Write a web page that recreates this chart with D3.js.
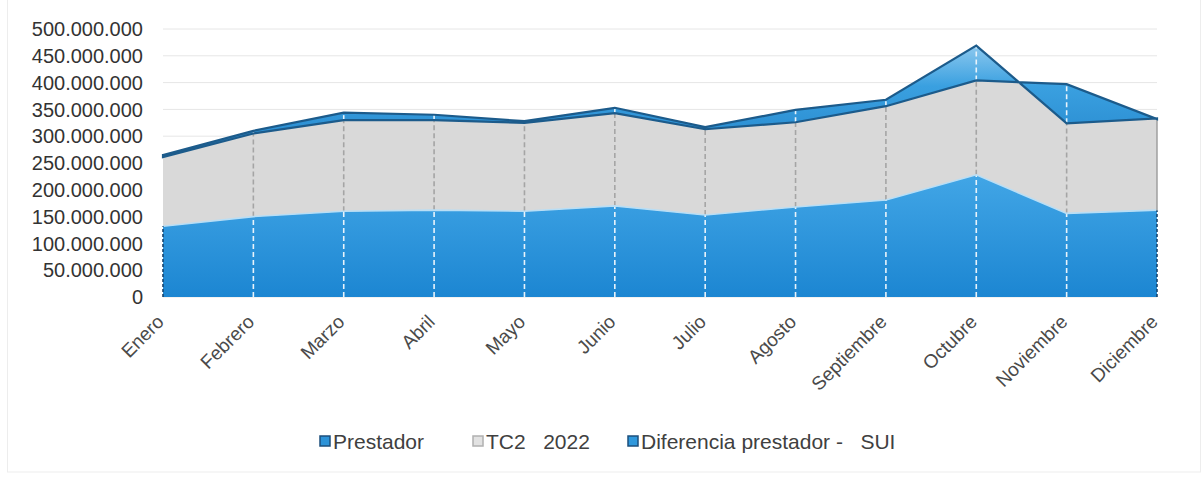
<!DOCTYPE html>
<html><head><meta charset="utf-8">
<script src="https://cdn.jsdelivr.net/npm/d3@7"></script>
<style>
body{margin:0;background:#fff}
svg{display:block}
text{font-family:"Liberation Sans",Arial,Helvetica,sans-serif;fill:#3a3a3a}
</style>
</head><body>
<svg id="chart" width="1202" height="477"></svg>
<script>
// ---- data (values in pesos) ----
const months = ["Enero","Febrero","Marzo","Abril","Mayo","Junio","Julio","Agosto","Septiembre","Octubre","Noviembre","Diciembre"];
const prestador  = [132e6,150e6,160e6,162e6,160e6,170e6,153e6,168e6,181e6,228e6,156e6,162e6];
const tc2        = [129e6,155e6,170e6,168e6,165e6,173e6,160e6,158e6,175e6,176e6,241e6,170e6];
const diferencia = [4e6,5e6,14e6,10e6,3e6,10e6,4e6,23e6,12e6,65e6,-73e6,1e6];
const yTicks = [0,50e6,100e6,150e6,200e6,250e6,300e6,350e6,400e6,450e6,500e6];
const seriesNames = ["Prestador","TC2   2022","Diferencia prestador -   SUI"];

const svg = d3.select("#chart");
const x = d3.scalePoint().domain(months).range([163,1157]);
const y = d3.scaleLinear().domain([0,500e6]).range([297,29]);

const table = months.map((m,i)=>({month:m,p:prestador[i],t:tc2[i],d:diferencia[i]}));
const stacked = d3.stack().keys(["p","t","d"])(table);

const locale = d3.formatLocale({decimal:",",thousands:".",grouping:[3],currency:["",""]});
const fmt = locale.format(",");

// defs
const defs = svg.append("defs");
const g1 = defs.append("linearGradient").attr("id","gPrest").attr("gradientUnits","userSpaceOnUse")
  .attr("x1",0).attr("x2",0).attr("y1",y(230e6)).attr("y2",y(0));
g1.append("stop").attr("offset",0).attr("stop-color","#42a6e6");
g1.append("stop").attr("offset",1).attr("stop-color","#1c86d2");
const g3 = defs.append("linearGradient").attr("id","gDif").attr("gradientUnits","userSpaceOnUse")
  .attr("x1",0).attr("x2",0).attr("y1",y(470e6)).attr("y2",y(300e6));
g3.append("stop").attr("offset",0).attr("stop-color","#8dc9ef");
g3.append("stop").attr("offset",0.45).attr("stop-color","#3aa0e0");
g3.append("stop").attr("offset",1).attr("stop-color","#2b8ed2");

// frame
svg.append("rect").attr("x",7.5).attr("y",-2).attr("width",1193).attr("height",474)
  .attr("fill","none").attr("stroke","#ededed");

// gridlines
svg.append("g").selectAll("line").data(yTicks).join("line")
  .attr("x1",x.range()[0]).attr("x2",x.range()[1])
  .attr("y1",d=>y(d)).attr("y2",d=>y(d))
  .attr("stroke","#e6e6e6").attr("stroke-width",1);

// y labels
svg.append("g").selectAll("text").data(yTicks).join("text")
  .attr("x",143).attr("y",d=>y(d)).attr("dy","0.36em")
  .attr("text-anchor","end").style("font-size","20px").style("fill","#333")
  .text(d=>fmt(d));

const area = d3.area().x(d=>x(d.data.month)).y0(d=>y(d[0])).y1(d=>y(d[1]));
const fills = ["url(#gPrest)","#d9d9d9","url(#gDif)"];
svg.append("g").selectAll("path").data(stacked).join("path")
  .attr("d",area).attr("fill",(d,i)=>fills[i]);

// drop lines
const drops = svg.append("g").attr("stroke-width",1.6).attr("stroke-dasharray","5,3");
table.forEach((row,i)=>{
  if(i===0||i===months.length-1) return;
  const xx = x(row.month);
  const c1 = stacked[0][i][1], c2 = stacked[1][i][1], c3 = stacked[2][i][1];
  const lo = Math.min(c2,c3), hi = Math.max(c2,c3);
  drops.append("line").attr("x1",xx).attr("x2",xx).attr("y1",y(0)).attr("y2",y(c1)).attr("stroke","#e8f3fb");
  drops.append("line").attr("x1",xx).attr("x2",xx).attr("y1",y(c1)).attr("y2",y(lo)).attr("stroke","#a5a5a5");
  if(hi>lo) drops.append("line").attr("x1",xx).attr("x2",xx).attr("y1",y(lo)).attr("y2",y(hi)).attr("stroke","#e8f3fb");
});

// prestador top edge (light) and dark dotted sides
const lineP = d3.line().x(d=>x(d.data.month)).y(d=>y(d[1]));
svg.append("path").attr("d",lineP(stacked[0])).attr("fill","none").attr("stroke","#b9def5").attr("stroke-width",1.6);
[0,months.length-1].forEach(i=>{
  const xx = x(months[i]);
  svg.append("line").attr("x1",xx).attr("x2",xx).attr("y1",y(0)).attr("y2",y(stacked[0][i][1]))
    .attr("stroke","#17456e").attr("stroke-width",1.6).attr("stroke-dasharray","3,2");
});
// gray right edge
{
  const i = months.length-1, xx = x(months[i]);
  svg.append("line").attr("x1",xx).attr("x2",xx).attr("y1",y(stacked[1][i][0])).attr("y2",y(stacked[1][i][1]))
    .attr("stroke","#9a9a9a").attr("stroke-width",1.4);
}
// diferencia outline (top and bottom edges)
svg.append("path").attr("d",area(stacked[2])).attr("fill","none")
  .attr("stroke","#1c5b8b").attr("stroke-width",2.2).attr("stroke-linejoin","miter");

// x labels
svg.append("g").selectAll("text").data(months).join("text")
  .attr("transform",d=>`translate(${x(d)+2},323) rotate(-45)`)
  .attr("text-anchor","end").style("font-size","19px").style("fill","#4a4a4a").text(d=>d);

// legend
const legX = [320,473,628];
const legFill = ["#2d93d8","#e2e2e2","#2f98dc"];
const legStroke = ["#1c4f7c","#b0b0b0","#1c4f7c"];
const leg = svg.append("g");
seriesNames.forEach((n,i)=>{
  leg.append("rect").attr("x",legX[i]).attr("y",436).attr("width",10).attr("height",10)
    .attr("fill",legFill[i]).attr("stroke",legStroke[i]).attr("stroke-width",1.5);
  leg.append("text").attr("x",legX[i]+13).attr("y",448.5).style("font-size","21px")
    .style("fill","#404040").style("white-space","pre").text(n);
});
</script>
</body></html>
